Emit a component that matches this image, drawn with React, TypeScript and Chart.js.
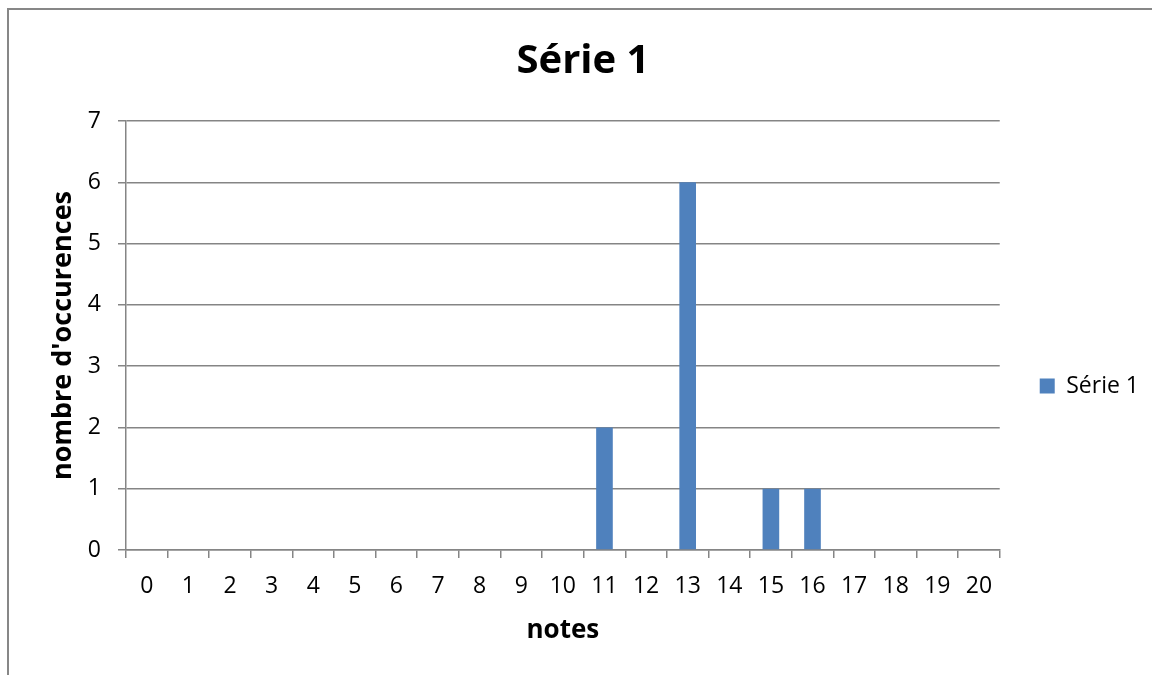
import React, { useEffect, useRef } from "react";
import { Chart, registerables } from "chart.js";

Chart.register(...registerables);

const categories: string[] = ["0", "1", "2", "3", "4", "5", "6", "7", "8", "9", "10", "11", "12", "13", "14", "15", "16", "17", "18", "19", "20"];
const serieValues: number[] = [0, 0, 0, 0, 0, 0, 0, 0, 0, 0, 0, 2, 0, 6, 0, 1, 1, 0, 0, 0, 0];
const seriesName = "Série 1";
const chartTitle = "Série 1";
const xTitle = "notes";
const yTitle = "nombre d'occurences";
const yMin = 0;
const yMax = 7;
const yStep = 1;

const GRID = "#858585";
const BAR = "#4F81BD";
const FONT = "'Open Sans', 'Noto Sans', sans-serif";

export default function App() {
  const ref = useRef<HTMLCanvasElement | null>(null);

  useEffect(() => {
    if (!ref.current) return;
    const chart = new Chart(ref.current, {
      type: "bar",
      data: {
        labels: categories,
        datasets: [
          {
            label: seriesName,
            data: serieValues,
            backgroundColor: BAR,
            borderWidth: 0,
            barPercentage: 0.4,
            categoryPercentage: 1.0,
          },
        ],
      },
      options: {
        responsive: false,
        animation: false,
        layout: { padding: { left: 8, right: 0, top: 0, bottom: 0 } },
        font: { family: FONT },
        plugins: {
          title: {
            display: true,
            text: chartTitle,
            color: "#000",
            font: { family: FONT, size: 40, weight: "bold" },
            padding: { top: 28, bottom: 35 },
          },
          legend: {
            display: true,
            position: "right",
            labels: {
              color: "#000",
              font: { family: FONT, size: 23 },
              boxWidth: 15,
              boxHeight: 15,
              padding: 40,
            },
          },
          tooltip: { enabled: false },
        },
        scales: {
          x: {
            type: "category",
            offset: true,
            grid: {
              display: true,
              drawOnChartArea: false,
              drawTicks: true,
              tickLength: 8,
              offset: true,
              color: GRID,
              lineWidth: 1.5,
            },
            border: { display: true, color: GRID, width: 1.5 },
            ticks: {
              color: "#000",
              font: { family: FONT, size: 23 },
              padding: 15,
              maxRotation: 0,
              autoSkip: false,
            },
            title: {
              display: true,
              text: xTitle,
              color: "#000",
              font: { family: FONT, size: 26, weight: "bold" },
              padding: { top: 0, bottom: 116 },
            },
            afterFit: (scale: any) => {
              scale.height = 212;
            },
          },
          y: {
            min: yMin,
            max: yMax,
            grid: {
              display: true,
              drawOnChartArea: true,
              drawTicks: true,
              tickLength: 8,
              color: GRID,
              lineWidth: 1.5,
            },
            border: { display: true, color: GRID, width: 1.5 },
            ticks: {
              stepSize: yStep,
              color: "#000",
              font: { family: FONT, size: 23 },
              padding: 17,
            },
            title: {
              display: true,
              text: yTitle,
              color: "#000",
              font: { family: FONT, size: 27, weight: "bold" },
              padding: { top: 30, bottom: 0 },
            },
            afterFit: (scale: any) => {
              scale.width = 109;
            },
          },
        },
      },
    });
    return () => chart.destroy();
  }, []);

  return (
    <div
      style={{
        position: "absolute",
        left: 7,
        top: 8,
        width: 1145,
        height: 667,
        overflow: "hidden",
        borderLeft: "2px solid #878787",
        borderTop: "2px solid #878787",
        boxSizing: "border-box",
        background: "#fff",
      }}
    >
      <canvas ref={ref} width={1140} height={752} style={{ display: "block", width: 1140, height: 752 }} />
    </div>
  );
}
